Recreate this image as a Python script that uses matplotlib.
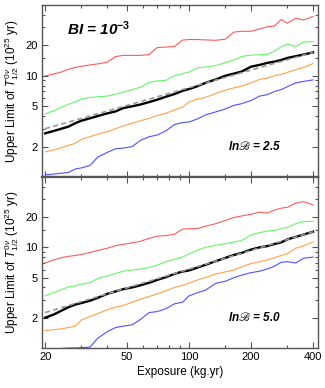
import numpy as np
import matplotlib
matplotlib.use("Agg")
import matplotlib.pyplot as plt
from matplotlib.ticker import FixedLocator, NullFormatter, FixedFormatter

plt.rcParams['font.family'] = ['Liberation Sans', 'DejaVu Sans']
plt.rcParams['mathtext.fontset'] = 'custom'
plt.rcParams['mathtext.rm'] = 'Liberation Sans'
plt.rcParams['mathtext.it'] = 'Liberation Sans:italic'
plt.rcParams['mathtext.bf'] = 'Liberation Sans:bold'

# ---------------- data ----------------
exposure = [20, 22, 24, 26, 28, 30, 33, 36, 40, 44, 48, 53, 58, 64, 70, 77, 85, 93,
            100, 110, 120, 135, 150, 165, 180, 200, 220, 240, 260, 280, 300, 330, 360, 400]

# top panel: BI = 1e-3, lnB = 2.5
top_red = [10.0, 10.4, 10.9, 11.6, 12.1, 12.4, 12.8, 13.1, 13.6, 15.5, 15.9, 15.9, 15.9, 16.2,
           19.0, 19.2, 19.5, 22.5, 22.8, 22.8, 22.6, 22.4, 23.0, 27.0, 27.5, 27.5, 29.0, 30.5,
           31.0, 36.0, 33.0, 37.0, 35.6, 38.5]
top_green = [4.2, 4.5, 4.9, 5.25, 5.5, 5.9, 6.1, 6.2, 6.3, 6.6, 6.9, 7.3, 7.7, 8.6, 8.9, 9.0,
             10.0, 10.5, 10.9, 12.0, 12.2, 12.6, 13.5, 14.3, 15.5, 16.0, 16.1, 16.3, 17.5,
             19.3, 20.5, 19.5, 21.5, 21.8]
top_black = [2.7, 2.85, 3.0, 3.15, 3.4, 3.6, 3.8, 4.0, 4.25, 4.45, 4.8, 5.0, 5.2, 5.5, 5.8,
             6.2, 6.6, 7.1, 7.4, 7.9, 8.5, 9.2, 10.0, 10.5, 11.0, 12.3, 12.8, 13.4, 13.8, 14.3,
             15.0, 15.6, 16.2, 17.0]
top_orange = [1.77, 1.85, 1.95, 2.05, 2.15, 2.35, 2.5, 2.65, 2.8, 3.0, 3.2, 3.4, 3.6, 3.8,
              4.05, 4.25, 4.6, 4.9, 5.5, 5.9, 6.1, 6.7, 7.2, 7.6, 7.9, 8.5, 9.2, 9.5, 10.0,
              10.3, 10.8, 11.5, 12.1, 13.2]
top_blue = [1.05, 1.07, 1.09, 1.11, 1.2, 1.23, 1.3, 1.57, 1.75, 1.9, 1.93, 2.0, 2.3, 2.5, 2.6,
            2.85, 3.3, 3.45, 3.5, 3.75, 4.1, 4.4, 4.7, 5.1, 5.3, 5.7, 6.3, 6.5, 7.0, 7.3, 7.8,
            8.5, 8.8, 9.1]
top_fit_x = [20, 400]
top_fit_y = [3.0, 17.0]

# bottom panel: BI = 1e-3, lnB = 5.0
bot_red = [7.0, 7.5, 7.9, 8.15, 8.3, 8.5, 8.9, 9.3, 9.8, 10.4, 10.7, 11.1, 11.5, 12.3, 12.9,
           13.1, 13.5, 15.2, 15.3, 15.4, 16.2, 17.2, 18.5, 19.8, 20.5, 21.3, 22.4, 21.9, 23.5,
           24.5, 25.0, 27.5, 28.5, 26.4]
bot_green = [3.3, 3.55, 3.8, 4.05, 4.15, 4.3, 4.45, 4.9, 5.2, 5.5, 5.8, 5.95, 6.05, 6.3, 6.65,
             7.2, 7.6, 8.0, 8.6, 9.4, 10.0, 10.5, 10.9, 11.3, 11.7, 13.3, 14.0, 14.5, 14.8,
             15.3, 15.8, 17.2, 18.0, 18.2]
bot_black = [2.0, 2.15, 2.35, 2.55, 2.7, 2.8, 2.95, 3.15, 3.45, 3.65, 3.85, 4.0, 4.2, 4.45,
             4.75, 5.05, 5.45, 5.75, 5.9, 6.3, 6.7, 7.3, 7.85, 8.4, 8.8, 9.5, 10.0, 10.3, 10.8,
             11.2, 12.0, 12.7, 13.4, 14.3]
bot_orange = [1.49, 1.52, 1.55, 1.6, 1.65, 1.9, 2.05, 2.2, 2.4, 2.55, 2.65, 2.85, 3.05, 3.25,
              3.45, 3.7, 4.0, 4.2, 4.4, 4.75, 5.0, 5.45, 5.7, 5.95, 6.4, 6.9, 7.2, 7.5, 7.9,
              8.3, 8.65, 9.8, 10.4, 11.3]
bot_blue = [0.97, 0.98, 0.99, 1.0, 1.0, 1.01, 1.02, 1.25, 1.45, 1.6, 1.65, 1.7, 1.92, 2.25,
            2.3, 2.45, 2.75, 2.85, 3.3, 3.55, 3.75, 4.4, 4.6, 5.0, 5.3, 5.6, 5.8, 6.1, 6.5,
            7.1, 7.2, 7.0, 7.8, 8.0]
bot_fit_x = [20, 400]
bot_fit_y = [2.25, 14.3]

x_major = [20, 50, 100, 200, 400]
x_minor = [30, 40, 60, 70, 80, 90, 150, 300]
y_major = [2, 5, 10, 20]
y_minor = [3, 4, 6, 7, 8, 9, 15, 30, 40]

# ---------------- figure ----------------
fig = plt.figure(figsize=(3.25, 3.88), dpi=100)
ax1 = fig.add_axes([0.1292, 0.5438, 0.8493, 0.4433])
ax2 = fig.add_axes([0.1292, 0.1031, 0.8493, 0.4407])

c_red = '#ff5a5a'
c_green = '#66f566'
c_orange = '#ffa04a'
c_blue = '#5050ff'
spine_c = '#555555'

panels = [
    (ax1, top_red, top_green, top_black, top_orange, top_blue, top_fit_x, top_fit_y),
    (ax2, bot_red, bot_green, bot_black, bot_orange, bot_blue, bot_fit_x, bot_fit_y),
]
for ax, r, g, k, o, b, fx, fy in panels:
    ax.plot(exposure, r, color=c_red, lw=0.8)
    ax.plot(exposure, g, color=c_green, lw=0.8)
    ax.plot(exposure, o, color=c_orange, lw=0.8)
    ax.plot(exposure, b, color=c_blue, lw=0.8)
    ax.plot(exposure, k, color='black', lw=1.7, zorder=3)
    ax.plot(fx, fy, color='#999999', lw=1.2, ls=(0, (3, 2)), zorder=4)
    ax.set_xscale('log')
    ax.set_yscale('log')
    ax.set_xlim(19.3, 423)
    ax.set_ylim(1.0, 50)
    ax.xaxis.set_major_locator(FixedLocator(x_major))
    ax.xaxis.set_minor_locator(FixedLocator(x_minor))
    ax.yaxis.set_major_locator(FixedLocator(y_major))
    ax.yaxis.set_minor_locator(FixedLocator(y_minor))
    ax.xaxis.set_minor_formatter(NullFormatter())
    ax.yaxis.set_minor_formatter(NullFormatter())
    ax.yaxis.set_major_formatter(FixedFormatter([str(v) for v in y_major]))
    ax.xaxis.set_major_formatter(FixedFormatter([str(v) for v in x_major]))
    ax.tick_params(which='both', direction='in', top=True, right=True,
                   color=spine_c, labelsize=8, width=0.8, pad=3)
    ax.tick_params(which='major', length=4)
    ax.tick_params(which='minor', length=2.2)
    for s in ax.spines.values():
        s.set_color(spine_c)
        s.set_linewidth(1.0)
    ax.set_ylabel(r'Upper Limit of $T_{1/2}^{0\nu}$ ($10^{25}$ yr)', fontsize=8.5, labelpad=3)

ax1.tick_params(labelbottom=False)
ax1.spines['bottom'].set_linewidth(1.6)
ax2.spines['top'].set_linewidth(1.6)
ax2.set_xlabel('Exposure (kg.yr)', fontsize=8.5, labelpad=3)

ax1.text(0.09, 0.86, r'BI = 10$^{\mathbf{-3}}$', transform=ax1.transAxes,
         fontsize=11, fontweight='bold', style='italic', ha='left', va='center')
ax1.text(0.77, 0.18, r'ln$\mathscr{B}$ = 2.5', transform=ax1.transAxes,
         fontsize=8.5, fontweight='bold', style='italic', ha='center', va='center',
         math_fontfamily='stix')
ax2.text(0.77, 0.18, r'ln$\mathscr{B}$ = 5.0', transform=ax2.transAxes,
         fontsize=8.5, fontweight='bold', style='italic', ha='center', va='center',
         math_fontfamily='stix')

fig.savefig('out.png', dpi=100)
